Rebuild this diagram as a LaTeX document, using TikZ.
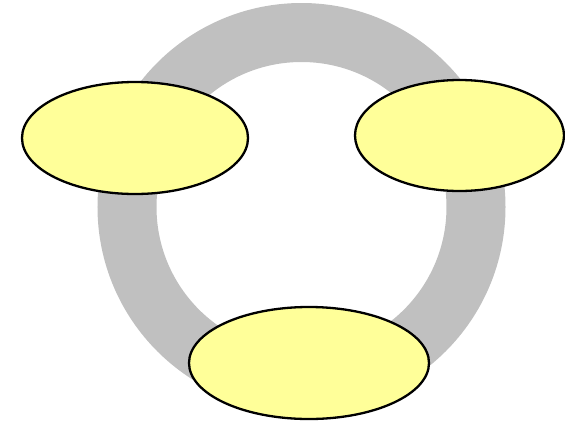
\documentclass[tikz,border=0pt]{standalone}
\usetikzlibrary{shapes.geometric}
\definecolor{ringgray}{HTML}{C0C0C0}
\definecolor{paleyellow}{HTML}{FFFF99}
\tikzset{
  blob/.style={ellipse, draw=black, line width=2.3pt, fill=paleyellow, inner sep=0pt},
  ring/.style={draw=ringgray, line width=59pt}
}
\begin{document}
\begin{tikzpicture}[x=1pt,y=-1pt]
\useasboundingbox (0,0) rectangle (565,421);
\draw[ring] (301.5,207) circle[radius=174.5];
\node[blob, minimum width=226pt, minimum height=112pt] (left) at (135,138) {};
\node[blob, minimum width=209pt, minimum height=111pt] (right) at (459.5,135.5) {};
\node[blob, minimum width=240pt, minimum height=112pt] (bottom) at (309,363) {};
\end{tikzpicture}
\end{document}
